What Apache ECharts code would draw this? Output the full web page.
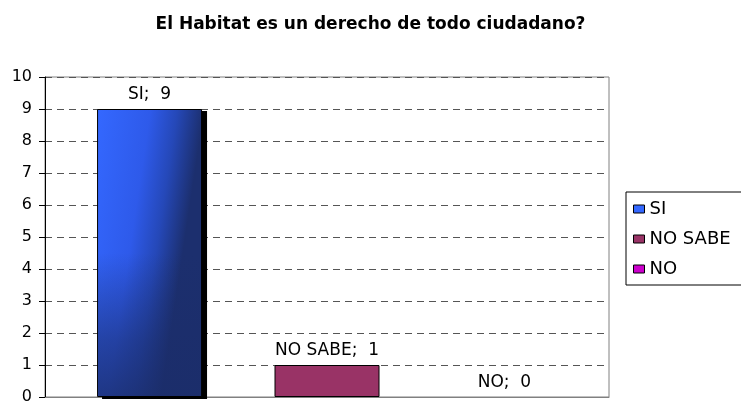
<!DOCTYPE html>
<html><head><meta charset="utf-8">
<script src="https://cdn.jsdelivr.net/npm/echarts@6/dist/echarts.min.js"></script>
<style>html,body{margin:0;padding:0;background:#fff}#c{width:741px;height:405px}</style>
</head><body><div id="c"></div>
<script>
var title = 'El Habitat es un derecho de todo ciudadano?';
var seriesNames = ['SI', 'NO SABE', 'NO'];
var seriesValues = [9, 1, 0];
var yTicks = [0, 1, 2, 3, 4, 5, 6, 7, 8, 9, 10];

var colors = ['#2a52d8', '#993366', '#cc00cc'];
var siStops = [
  {offset: 0, color: '#3468ff'},
  {offset: 0.5, color: '#2e5aea'},
  {offset: 0.75, color: '#2548b8'},
  {offset: 1, color: '#1c2f6e'}
];
var shadeStops = [
  {offset: 0, color: 'rgba(27,45,106,0)'},
  {offset: 0.5, color: 'rgba(27,45,106,0)'},
  {offset: 0.8, color: 'rgba(27,45,106,0.55)'},
  {offset: 1, color: 'rgba(27,45,106,0.8)'}
];

var chart = echarts.init(document.getElementById('c'));
chart.setOption({
  animation: false,
  title: {
    text: title, left: 'center', top: 11,
    textStyle: {fontFamily: 'DejaVu Sans', fontWeight: 'bold', fontSize: 17, color: '#000'}
  },
  legend: {
    orient: 'vertical', left: 626, top: 192,
    data: seriesNames,
    icon: 'rect', itemWidth: 11, itemHeight: 8, itemGap: 12,
    itemStyle: {borderColor: '#000', borderWidth: 1},
    borderColor: '#000', borderWidth: 1, padding: [8, 14, 7, 7],
    textStyle: {fontFamily: 'DejaVu Sans', fontSize: 18, color: '#000'}
  },
  grid: {left: 45, right: 132, top: 77, bottom: 5, show: true, borderColor: '#808080', borderWidth: 1},
  xAxis: {
    type: 'category', data: [''],
    axisLine: {lineStyle: {color: '#808080'}}, axisTick: {show: false}, axisLabel: {show: false}
  },
  yAxis: {
    type: 'value', min: yTicks[0], max: yTicks[yTicks.length - 1], interval: 1,
    axisLine: {show: true, lineStyle: {color: '#000'}},
    axisTick: {show: true, length: 6, lineStyle: {color: '#000'}},
    axisLabel: {fontFamily: 'DejaVu Sans', fontSize: 16, color: '#000', margin: 13},
    splitLine: {lineStyle: {color: '#555', type: [7, 5]}}
  },
  series: seriesNames.map(function (n, i) {
    return {
      name: n, type: 'bar', data: [seriesValues[i]],
      barWidth: 105, barGap: '69%',
      itemStyle: {color: colors[i], borderColor: '#000', borderWidth: seriesValues[i] > 0 ? 1 : 0},
      label: {
        show: true, position: 'top', distance: 6, formatter: '{a};  {c}',
        fontFamily: 'DejaVu Sans', fontSize: 17, color: '#000'
      }
    };
  })
});

// shading and shadow of the first bar, taken from the bar's own layout
var lay = chart.getModel().getSeriesByIndex(0).getData().getItemLayout(0);
var bx = Math.min(lay.x, lay.x + lay.width), by = Math.min(lay.y, lay.y + lay.height);
var bw = Math.abs(lay.width), bh = Math.abs(lay.height);
chart.setOption({
  series: [{
    itemStyle: {
      color: new echarts.graphic.LinearGradient(bx, by, bx + bw, by + bw * 0.15, siStops, true)
    }
  }],
  graphic: [{
    type: 'rect', z: 1,
    shape: {x: bx + 5, y: by + 2, width: bw, height: bh},
    style: {fill: '#000'}
  }, {
    type: 'rect', z: 3, silent: true,
    shape: {x: bx + 1, y: by + 1, width: bw - 2, height: bh - 2},
    style: {fill: new echarts.graphic.LinearGradient(0, by, 0, by + bh, shadeStops, true)}
  }]
});
</script></body></html>
